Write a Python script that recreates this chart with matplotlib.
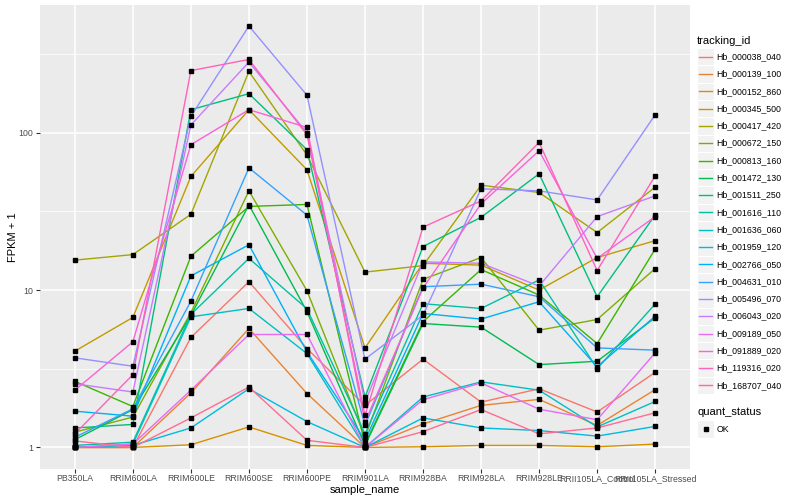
import numpy as np
import matplotlib.pyplot as plt
from matplotlib.patches import Rectangle
from matplotlib.lines import Line2D
from matplotlib.ticker import FixedLocator, NullFormatter

plt.rcParams['font.family'] = ['Liberation Sans', 'DejaVu Sans']

sample_names = ["PB350LA", "RRIM600LA", "RRIM600LE", "RRIM600SE", "RRIM600PE",
                "RRIM901LA", "RRIM928BA", "RRIM928LA", "RRIM928LE",
                "RRII105LA_Control", "RRII105LA_Stressed"]

tracking_ids = ["Hb_000038_040", "Hb_000139_100", "Hb_000152_860", "Hb_000345_500",
                "Hb_000417_420", "Hb_000672_150", "Hb_000813_160", "Hb_001472_130",
                "Hb_001511_250", "Hb_001616_110", "Hb_001636_060", "Hb_001959_120",
                "Hb_002766_050", "Hb_004631_010", "Hb_005496_070", "Hb_006043_020",
                "Hb_009189_050", "Hb_091889_020", "Hb_119316_020", "Hb_168707_040"]

# ggplot hue palette, 20 levels
colours = ["#F8766D", "#EA8331", "#D89000", "#C09B00", "#A3A500", "#7CAE00",
           "#39B600", "#00BB4E", "#00BF7D", "#00C1A3", "#00BFC4", "#00BAE0",
           "#00B0F6", "#35A2FF", "#9590FF", "#C77CFF", "#E76BF3", "#FA62DB",
           "#FF62BC", "#FF6C91"]

# FPKM + 1, one list per gene, in sample_names order
hb_000038_040 = [1.0, 1.0, 5.0, 11.3, 4.25, 1.85, 3.64, 1.94, 2.36, 1.68, 3.0]
hb_000139_100 = [1.0, 1.0, 2.22, 5.7, 2.2, 1.0, 1.41, 1.85, 2.02, 1.38, 2.33]
hb_000152_860 = [1.0, 1.0, 1.04, 1.35, 1.03, 1.0, 1.01, 1.03, 1.03, 1.01, 1.05]
hb_000345_500 = [4.09, 6.7, 52.7, 140, 58.1, 4.29, 14.8, 14.4, 10.0, 16.1, 20.6]
hb_000417_420 = [15.5, 16.8, 30.3, 245, 72, 13.0, 14.3, 46.4, 41.7, 23.2, 45.1]
hb_000672_150 = [1.25, 1.56, 7.2, 42.7, 9.9, 1.16, 11.7, 16.1, 5.56, 6.5, 13.7]
hb_000813_160 = [2.63, 1.82, 16.4, 34.0, 35.0, 1.05, 6.3, 13.5, 9.3, 4.57, 18.2]
hb_001472_130 = [1.12, 1.74, 6.9, 34.8, 7.3, 1.03, 6.13, 5.81, 3.36, 3.53, 6.67]
hb_001511_250 = [1.33, 1.40, 140, 177, 78, 2.09, 18.9, 29.0, 54.8, 9.07, 30.0]
hb_001616_110 = [1.03, 1.08, 7.0, 15.9, 7.6, 1.22, 8.19, 7.64, 11.6, 3.17, 8.15]
hb_001636_060 = [1.0, 1.05, 6.76, 7.64, 3.95, 1.0, 2.09, 2.61, 2.31, 1.35, 1.96]
hb_001959_120 = [1.0, 1.03, 1.33, 2.36, 1.46, 1.0, 1.54, 1.33, 1.28, 1.18, 1.36]
hb_002766_050 = [1.70, 1.58, 12.3, 19.4, 4.05, 1.11, 7.1, 6.54, 8.43, 3.25, 6.83]
hb_004631_010 = [1.16, 1.76, 8.5, 59.8, 29.9, 1.38, 10.5, 10.9, 9.07, 4.29, 4.15]
hb_005496_070 = [3.71, 3.28, 127, 476, 173, 3.64, 6.93, 44.0, 42.7, 37.4, 130]
hb_006043_020 = [2.54, 2.25, 112, 281, 100, 1.94, 15.1, 14.8, 10.6, 29.3, 39.7]
hb_009189_050 = [1.0, 1.05, 2.31, 5.22, 5.22, 1.0, 2.01, 2.57, 1.75, 1.50, 3.99]
hb_091889_020 = [2.31, 4.69, 83.9, 140, 108, 1.45, 10.3, 35.3, 76.8, 15.9, 29.3]
hb_119316_020 = [1.22, 2.90, 248, 292, 97, 1.6, 25.1, 36.9, 86.7, 13.3, 53.2]
hb_168707_040 = [1.10, 1.0, 1.54, 2.42, 1.11, 1.0, 1.26, 1.74, 1.22, 1.33, 1.66]

series = [hb_000038_040, hb_000139_100, hb_000152_860, hb_000345_500, hb_000417_420,
          hb_000672_150, hb_000813_160, hb_001472_130, hb_001511_250, hb_001616_110,
          hb_001636_060, hb_001959_120, hb_002766_050, hb_004631_010, hb_005496_070,
          hb_006043_020, hb_009189_050, hb_091889_020, hb_119316_020, hb_168707_040]

W, H = 800, 500


def fx(px):
    return px / W


def fy(py):
    return 1 - py / H


fig = plt.figure(figsize=(8, 5), dpi=100)
ax = fig.add_axes([fx(40), fy(468.5), fx(690) - fx(40), fy(5) - fy(468.5)])
ax.set_facecolor("#EBEBEB")

for vals, c in zip(series, colours):
    ax.plot(sample_names, vals, color=c, lw=1.0, zorder=3)
for vals in series:
    ax.plot(sample_names, vals, ls="none", marker="s", ms=2.4, color="black", zorder=4)

ax.set_yscale("log")
allv = np.log10(np.concatenate([np.array(s, dtype=float) for s in series]))
lo, hi = allv.min(), allv.max()
pad = 0.05 * (hi - lo)
ax.set_ylim(10 ** (lo - pad), 10 ** (hi + pad))
ax.set_xlim(-0.6, len(sample_names) - 0.4)

ax.yaxis.set_major_locator(FixedLocator([1, 10, 100]))
ax.set_yticklabels(["1", "10", "100"])
ax.yaxis.set_minor_locator(FixedLocator([10 ** 0.5, 10 ** 1.5, 10 ** 2.5]))
ax.yaxis.set_minor_formatter(NullFormatter())
ax.tick_params(which="minor", length=0)
ax.tick_params(which="major", length=3, width=0.8, color="#333333",
               labelsize=6.3, labelcolor="#4D4D4D", pad=2)
ax.tick_params(axis="x", pad=1.2)

ax.grid(which="major", color="white", lw=1.1, zorder=0)
ax.grid(which="minor", axis="y", color="white", lw=0.55, zorder=0)
ax.set_axisbelow(True)
for s in ax.spines.values():
    s.set_visible(False)

ax.set_xlabel("sample_name", fontsize=8)
ax.set_ylabel("FPKM + 1", fontsize=8)
ax.xaxis.set_label_coords(0.5, (468.5 - 490) / 463.5)
ax.yaxis.set_label_coords((13 - 40) / 650, 0.5)
ax.xaxis.label.set_va("center")
ax.yaxis.label.set_va("center")

# legends, drawn by hand to get ggplot style key boxes
fig.text(fx(697), fy(40.5), "tracking_id", fontsize=8, va="center", ha="left")
step = 17.3
for i, (name, c) in enumerate(zip(tracking_ids, colours)):
    yc = 56.7 + i * step
    fig.add_artist(Rectangle((fx(697), fy(yc + step / 2)), fx(step), step / H,
                             transform=fig.transFigure, facecolor="#F2F2F2",
                             edgecolor="white", lw=0.8))
    fig.add_artist(Line2D([fx(699), fx(712)], [fy(yc), fy(yc)],
                          transform=fig.transFigure, color=c, lw=1.0))
    fig.text(fx(716.5), fy(yc), name, fontsize=6.3, va="center", ha="left")

fig.text(fx(697), fy(412), "quant_status", fontsize=8, va="center", ha="left")
fig.add_artist(Rectangle((fx(697), fy(429 + step / 2)), fx(step), step / H,
                         transform=fig.transFigure, facecolor="#F2F2F2",
                         edgecolor="white", lw=0.8))
fig.add_artist(Line2D([fx(705.5)], [fy(429)], transform=fig.transFigure,
                      ls="none", marker="s", ms=2.4, color="black"))
fig.text(fx(716.5), fy(429), "OK", fontsize=6.3, va="center", ha="left")

fig.savefig("out.png", dpi=100)
